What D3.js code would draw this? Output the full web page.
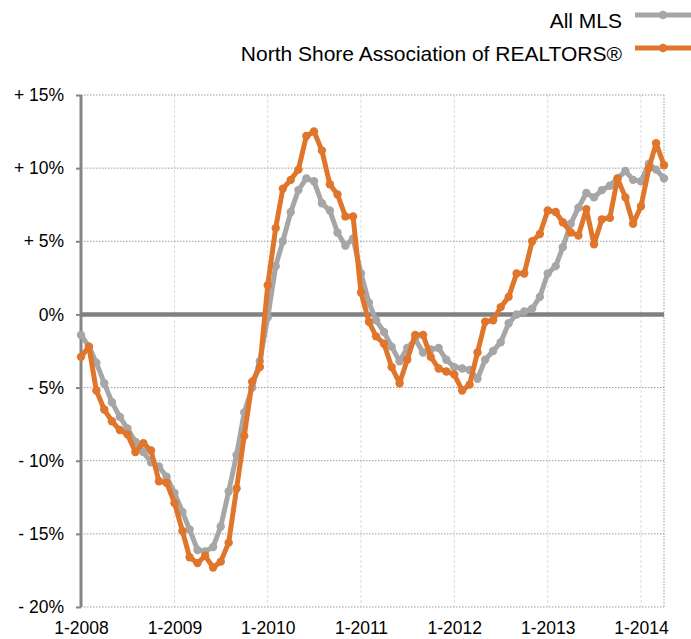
<!DOCTYPE html>
<html>
<head>
<meta charset="utf-8">
<script src="https://cdn.jsdelivr.net/npm/d3@7"></script>
<style>
  html, body { margin: 0; padding: 0; background: #fff; }
  svg { display: block; font-family: "Helvetica Neue", Helvetica, Arial, "Liberation Sans", sans-serif; }
</style>
</head>
<body>
<svg id="chart" width="691" height="639"></svg>
<script>
// monthly year-over-year change, Jan 2008 .. Apr 2014
const firstMonth = new Date(2008, 0, 1);
const lastMonth = new Date(2014, 3, 1);
const months = d3.timeMonth.range(firstMonth, d3.timeMonth.offset(lastMonth, 1));

const seriesNames = ["All MLS", "North Shore Association of REALTORS®"];
const seriesColours = ["#a6a6a6", "#df762b"];

const allMls = [
  -1.4, -2.2, -3.3, -4.7, -6.0, -7.0, -7.8, -8.7, -9.4, -10.1, -10.4, -11.1,
  -12.2, -13.5, -14.7, -16.1, -16.2, -15.9, -14.5, -12.1, -9.6, -6.7, -5.0, -3.2,
  -0.2, 3.3, 5.0, 7.0, 8.5, 9.3, 9.1, 7.6, 7.1, 5.6, 4.7, 5.2,
  2.8, 0.8, -0.4, -1.2, -2.2, -3.2, -2.3, -1.7, -2.6, -2.4, -2.3, -3.1,
  -3.6, -3.7, -3.8, -4.4, -3.1, -2.5, -1.9, -0.6, 0.0, 0.2, 0.4, 1.2,
  2.8, 3.3, 4.6, 6.2, 7.3, 8.3, 8.0, 8.5, 8.8, 9.3, 9.8, 9.2,
  9.1, 10.3, 9.9, 9.3
];
const northShore = [
  -2.9, -2.2, -5.2, -6.5, -7.3, -7.9, -8.2, -9.4, -8.8, -9.3, -11.4, -11.5,
  -12.9, -14.8, -16.6, -17.0, -16.5, -17.3, -16.9, -15.6, -11.9, -8.3, -4.6, -3.6,
  2.0, 5.9, 8.6, 9.2, 9.9, 12.2, 12.5, 11.2, 8.9, 8.2, 6.7, 6.7,
  1.5, -0.5, -1.5, -2.0, -3.6, -4.7, -3.1, -1.4, -1.4, -2.9, -3.7, -3.9,
  -4.1, -5.2, -4.8, -2.6, -0.5, -0.4, 0.5, 1.2, 2.8, 2.8, 5.0, 5.5,
  7.1, 7.0, 6.3, 5.6, 5.4, 7.2, 4.8, 6.5, 6.6, 9.3, 8.0, 6.2,
  7.4, 10.0, 11.7, 10.2
];
const yTicks = [15, 10, 5, 0, -5, -10, -15, -20];

const svg = d3.select("#chart");
const plotLeft = 81, plotRight = 664, plotTop = 95, plotBottom = 607;

const x = d3.scaleTime().domain([firstMonth, lastMonth]).range([plotLeft, plotRight]);
const y = d3.scaleLinear().domain([-20, 15]).range([plotBottom, plotTop]);

const pctLabel = v => v > 0 ? `+ ${v}%` : v < 0 ? `- ${-v}%` : "0%";
const fontStack = "\"Helvetica Neue\", Helvetica, Arial, \"Liberation Sans\", sans-serif";

// vertical grid (years)
const years = d3.timeYear.range(new Date(2009, 0, 1), new Date(2014, 1, 1));
svg.append("g")
  .selectAll("line")
  .data(years)
  .join("line")
  .attr("x1", d => x(d)).attr("x2", d => x(d))
  .attr("y1", plotTop).attr("y2", plotBottom)
  .attr("stroke", "#dcdcdc")
  .attr("stroke-width", 1)
  .attr("stroke-dasharray", "3,2");

// horizontal grid
svg.append("g")
  .selectAll("line")
  .data(yTicks.filter(v => v !== 0))
  .join("line")
  .attr("x1", plotLeft).attr("x2", plotRight)
  .attr("y1", d => y(d)).attr("y2", d => y(d))
  .attr("stroke", "#9a9a9a")
  .attr("stroke-width", 1)
  .attr("stroke-dasharray", "1.5,1.5");

// right border
svg.append("line")
  .attr("x1", plotRight).attr("x2", plotRight)
  .attr("y1", plotTop).attr("y2", plotBottom)
  .attr("stroke", "#9a9a9a")
  .attr("stroke-width", 1)
  .attr("stroke-dasharray", "1.5,1.5");

// y axis
const yAxis = svg.append("g")
  .attr("transform", `translate(${plotLeft},0)`)
  .call(d3.axisLeft(y).tickValues(yTicks).tickFormat(pctLabel).tickSize(5).tickPadding(12));
yAxis.select(".domain")
  .attr("d", `M0,${plotTop}V${plotBottom}`)
  .attr("stroke", "#858585")
  .attr("stroke-width", 3);
yAxis.selectAll(".tick line").attr("stroke", "#858585").attr("stroke-width", 2);
yAxis.selectAll(".tick text")
  .attr("fill", "#000")
  .style("font-size", "17.5px")
  .style("font-family", fontStack);

// x axis labels
const xAxis = svg.append("g")
  .attr("transform", `translate(0,${plotBottom})`)
  .call(d3.axisBottom(x).tickValues(d3.timeYear.range(firstMonth, new Date(2014, 1, 1)))
    .tickFormat(d3.timeFormat("1-%Y")).tickSize(0).tickPadding(15));
xAxis.select(".domain").remove();
xAxis.selectAll(".tick text")
  .attr("fill", "#000")
  .style("font-size", "17.5px")
  .style("font-family", fontStack);

// zero line
svg.append("line")
  .attr("x1", plotLeft).attr("x2", plotRight)
  .attr("y1", y(0)).attr("y2", y(0))
  .attr("stroke", "#808080")
  .attr("stroke-width", 4.5);

// series
const series = [allMls, northShore];
const line = d3.line()
  .x((d, i) => x(months[i]))
  .y(d => y(d));

series.forEach((values, s) => {
  const g = svg.append("g");
  g.append("path")
    .datum(values)
    .attr("fill", "none")
    .attr("stroke", seriesColours[s])
    .attr("stroke-width", 5)
    .attr("stroke-linejoin", "round")
    .attr("d", line);
  g.selectAll("circle")
    .data(values)
    .join("circle")
    .attr("cx", (d, i) => x(months[i]))
    .attr("cy", d => y(d))
    .attr("r", 4.2)
    .attr("fill", seriesColours[s]);
});

// legend
const legend = svg.append("g");
const legendRows = seriesNames.map((name, i) => ({ name, colour: seriesColours[i], y: [15, 48][i] }));
legendRows.forEach(row => {
  legend.append("text")
    .attr("x", 622)
    .attr("y", row.y + 13)
    .attr("text-anchor", "end")
    .attr("fill", "#000")
    .style("font-size", "21px")
    .text(row.name);
  legend.append("line")
    .attr("x1", 635).attr("x2", 691)
    .attr("y1", row.y).attr("y2", row.y)
    .attr("stroke", row.colour)
    .attr("stroke-width", 5);
  legend.append("circle")
    .attr("cx", 663).attr("cy", row.y)
    .attr("r", 4.2)
    .attr("fill", row.colour);
});
</script>
</body>
</html>
